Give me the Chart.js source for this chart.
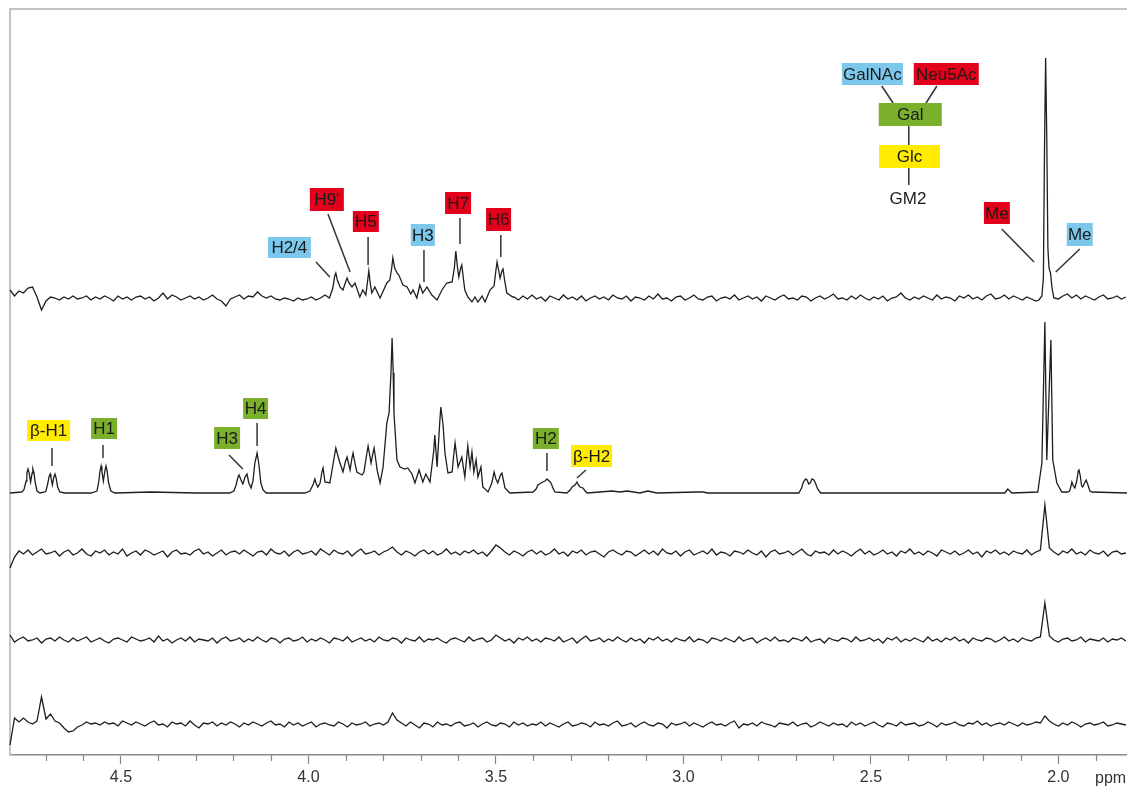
<!DOCTYPE html>
<html>
<head>
<meta charset="utf-8">
<script src="https://cdn.jsdelivr.net/npm/chart.js@4.4.1/dist/chart.umd.min.js"></script>
<style>
  html, body { margin: 0; padding: 0; background: #ffffff; }
  #wrap { width: 1127px; height: 788px; }
</style>
</head>
<body>
<div id="wrap"><canvas id="c" width="1127" height="788"></canvas></div>
<script>
// ---------------- DATA ----------------
// x axis (ppm, reversed)
const ppmMin = 1.817;
const ppmMax = 4.796;
const tickLabels = [4.5, 4.0, 3.5, 3.0, 2.5, 2.0];

// vertical stacking of the five spectra (baseline level of each trace)
const traceBaselines = [457, 262, 202, 115, 30];

// common sampling grid of the noisy traces
const gridStart = 4.796;
const gridStep = 0.012;

// top trace (GM2): noise on grid, null = covered by the peak lists
const noiseTop = [
  8, 2, 7, 5, 10, 11, 1, -12, -3, 1,
  0, -2, 1, -1, 2, -1, 0, 2, -2, 1,
  -1, 2, 0, -3, 2, -1, 1, -2, 1, 2,
  -1, 1, -3, 0, 5, -1, 3, 1, -2, 0,
  2, -1, 1, -2, 0, 3, -1, -3, -8, -1,
  1, 3, -1, 2, 1, 6, 2, 0, 2, -1,
  -2, 0, -1, -3, 0, -2, -1, 1, -2, 0,
  3, 0,
  null, null, null, null, null, null, null, null, null, null,
  null, null, null, null, null, null, null, null, null, null,
  null, null, null, null, null, null, null, null, null, null,
  null, null, null, null, null, null, null, null, null, null,
  1, -2, 2, -1, 3, -1, 1, -3, 2, 0,
  -2, 3, -1, 1, -2, 2, -3, 0, 2, -1,
  1, -2, 3, 0, -1, 2, -3, 1, 0, -2,
  2, -1, 4, -1, 0, -3, 1, 2, -2, 0,
  3, -1, -2, 1, 2, -3, 0, 1, -1, 3,
  -2, 0, 2, -1, 1, -3, 2, 0, -2, 1,
  3, -1, 0, -2, 2, 1, -3, 0, 2, -1,
  1, 4, -1, 0, -2, 2, -1, 3, 0, -2,
  1, -1, 2, -3, 0, 1, 5, 0, -2, 1,
  -1, 2, 0, -2, 3, -1, 1, 0, -3, 2,
  0, 3, -1, 1, -2, 2, 4, -1, 0, 3,
  -1, 2, 0, -2, 1, -1, -3,
  null, null, null, null,
  -1, 2, 4, 0, 3, -1, 2, 0, -2, 1, 3, -1, 0, 2, -1, 1
];
// top trace: sugar region peaks [ppm, intensity]
const peaksTopSugar = [
  [3.943,0],[3.935,10],[3.930,22],[3.927,25],[3.923,18],[3.916,11],[3.908,8],[3.901,16],[3.897,20],[3.892,15],[3.884,11],[3.876,15],
  [3.863,1],[3.855,8],[3.847,3],[3.842,18],[3.839,27],[3.835,14],[3.831,5],[3.823,11],[3.809,0],[3.791,15],
  [3.783,18],[3.778,30],[3.775,40],[3.770,30],[3.764,25],[3.759,23],[3.748,13],[3.737,11],[3.727,4],[3.721,8],
  [3.711,0],[3.703,13],[3.695,5],[3.684,11],[3.671,3],[3.657,-2],[3.644,8],[3.631,15],
  [3.617,16],[3.611,30],[3.607,47],[3.603,32],[3.599,21],[3.594,30],[3.591,33],[3.587,20],[3.583,8],[3.575,1],[3.564,-4],[3.556,1],
  [3.548,-4],[3.537,2],[3.529,-4],[3.516,8],[3.505,12],[3.500,28],[3.497,36],[3.493,28],[3.489,20],[3.484,27],[3.481,29],[3.477,18],
  [3.471,5],[3.455,1]
];
// top trace: N-acetyl methyl peak
const peaksTopMe = [
  [2.052,-2],[2.044,2],[2.040,20],[2.037,150],[2.034,240],[2.031,160],[2.028,50],
  [2.025,30],[2.021,25],[2.017,10],[2.012,0]
];

// second trace (reference spectrum) [ppm, intensity]
const traceRef = [
  [4.796,0],[4.765,1],[4.759,3],[4.753,12],[4.751,20],[4.748,24],[4.745,20],[4.741,11],
  [4.737,20],[4.735,24],[4.732,20],[4.729,11],[4.724,2],[4.716,0],
  [4.703,1],[4.700,2],[4.695,10],[4.692,16],[4.689,19],[4.687,16],[4.683,8],[4.679,16],
  [4.676,19],[4.673,15],[4.669,6],[4.663,1],[4.650,0],
  [4.580,0],[4.564,2],[4.559,12],[4.556,22],[4.553,27],[4.551,22],[4.547,12],[4.543,22],
  [4.540,27],[4.537,22],[4.533,10],[4.527,2],[4.516,0],
  [4.420,1],[4.300,0],[4.210,0],[4.199,2],[4.193,8],[4.188,16],[4.185,18],[4.180,13],
  [4.175,9],[4.169,16],[4.164,19],[4.159,10],[4.153,5],[4.148,12],[4.143,30],[4.137,40],
  [4.132,28],[4.127,10],[4.121,3],[4.113,0],
  [4.010,0],[3.996,2],[3.987,9],[3.983,14],[3.979,9],[3.975,6],[3.969,10],[3.964,21],[3.961,25],[3.956,11],[3.943,10],
  [3.933,32],[3.927,45],[3.922,38],[3.916,30],[3.908,21],[3.901,32],[3.897,36],[3.889,23],[3.884,35],[3.881,40],[3.876,30],[3.871,21],[3.857,18],
  [3.852,21],[3.845,38],[3.841,47],[3.833,30],[3.828,40],[3.825,45],[3.820,32],[3.817,23],[3.809,10],[3.801,26],[3.791,70],
  [3.785,80],[3.780,120],[3.777,155],[3.774,120],[3.772,80],[3.764,33],[3.756,26],[3.743,24],[3.735,25],[3.724,19],
  [3.716,10],[3.705,23],[3.695,11],[3.687,19],[3.676,11],[3.666,42],[3.663,58],[3.657,26],[3.650,70],[3.647,86],
  [3.641,68],[3.636,40],[3.628,20],[3.617,21],[3.612,40],[3.609,50],[3.601,26],[3.591,36],[3.583,16],
  [3.575,47],[3.569,26],[3.564,41],[3.559,21],[3.553,33],[3.548,16],[3.540,26],[3.535,6],
  [3.521,1],[3.511,10],[3.505,21],[3.500,14],[3.495,10],[3.488,18],[3.484,20],[3.476,5],[3.463,0],
  [3.401,1],[3.393,4],[3.388,8],[3.380,10],[3.375,11],[3.369,12],[3.364,14],[3.358,12],[3.353,10],[3.348,5],[3.343,1],[3.311,0],[3.302,3],[3.297,6],
  [3.289,8],[3.284,11],[3.280,8],[3.276,6],[3.268,5],[3.262,2],[3.257,0],
  [3.190,2],[3.170,1],[3.150,2],[3.116,0],[3.095,2],[3.071,0],[2.964,1],[2.948,1],[2.935,0],
  [2.692,0],[2.685,5],[2.680,11],[2.674,14],[2.670,13],[2.666,9],[2.662,10],[2.657,14],
  [2.652,13],[2.647,9],[2.642,4],[2.634,0],
  [2.143,0],[2.135,4],[2.124,0],[2.055,1],[2.044,30],[2.036,171],[2.031,33],[2.020,153],
  [2.015,33],[2.004,10],[1.991,1],[1.975,1],[1.970,2],[1.967,6],[1.964,11],[1.960,7],[1.956,5],
  [1.951,12],[1.947,22],[1.945,23],[1.942,18],[1.938,7],[1.935,6],[1.930,10],[1.926,13],
  [1.922,9],[1.916,2],[1.911,1],[1.817,0]
];

// third trace (noise on grid)
const noise3 = [
  -15, -4, 2, -1, 3, -2, 1, 4, -1, 0,
  2, -3, 1, 3, -2, 0, 4, -1, -3, 2,
  0, 3, -2, 1, -1, 4, -3, 0, 2, -2,
  3, 1, -2, 0, 2, -4, 1, 3, -1, 0,
  -2, 2, 4, -1, 1, -3, 0, 3, -2, 1,
  2, -1, 3, 0, -3, 1, 2, -2, 4, 0,
  -1, 2, -3, 1, 3, -1, 0, 2, -2, 4,
  1, -2, 3, 0, -1, 2, -3, 1, 4, -1,
  0, 2, -2, 1, 3, 6, 1, -2, 2, 0,
  -3, 1, 3, -1, 2, -2, 0, 4, -1, 1,
  -2, 2, 0, 3, -1, 1, -3, 2, 8, 5,
  1, -2, 2, 0, -3, 1, 3, -1, 2, -2,
  0, 4, -1, 1, -3, 2, 0, 3, -2, 1,
  2, -1, -4, 1, 3, 0, -2, 2, 1, -3,
  0, 3, -1, 2, -2, 4, 0, -1, 2, -3,
  1, 3, -2, 0, 2, -1, 4, -2, 1, 0,
  -3, 2, 1, -1, 3, 0, -2, 2, -4, 1,
  3, -1, 0, 2, -2, 1, 4, -1, -3, 2,
  0, 1, -2, 3, -1, 2, 0, -3, 1, 4,
  -1, 2, -2, 0, 3, -1, 1, -3, 2, 0,
  4, -1, 1, -2, 2, 0, -3, 3, 1, -1,
  2, -2, 0, 3, -1, 1, -4, 2, 0, 3,
  -1, 1, -2, 2, 0, -1, 3, -2, 1, 3,
  48, 5, 1, -2, 2, 0, 4, -1, 1, -2,
  3, 0, -1, 2, -3, 1, 2, -1, 0
];

// fourth trace (noise on grid)
const noise4 = [
  5, -2, 1, 3, -1, 0, 2, -3, 1, 2,
  -1, 3, 0, -2, 2, -1, 1, 3, -2, 0,
  2, -1, -3, 1, 2, 0, -2, 3, 1, -1,
  0, 2, -2, 4, -1, 1, -3, 0, 2, -1,
  3, -2, 1, 0, -1, 2, -3, 1, 3, -1,
  0, 2, -2, 1, -1, 3, 0, -2, 2, 1,
  -3, 1, 2, -1, 0, 3, -2, 1, -1, 2,
  0, -3, 2, 1, -1, 3, -2, 0, 2, -1,
  1, -2, 3, 0, -1, 2, 1, -3, 2, 0,
  -1, 3, -2, 1, 0, 2, -1, -3, 1, 2,
  0, -2, 3, -1, 1, 2, -2, 0, 5, 2,
  -1, 1, -3, 2, 0, 3, -1, 1, -2, 2,
  1, -1, 3, -2, 0, 2, -3, 1, 4, -1,
  0, 2, -2, 1, -1, 3, 0, -2, 2, -1,
  1, -3, 2, 0, 3, -1, 1, -2, 2, 0,
  -1, 3, -2, 1, 0, -3, 2, 1, -1, 2,
  0, -2, 3, -1, 1, 2, -3, 0, 2, -1,
  3, -1, 0, -2, 2, 1, -1, 3, -2, 0,
  1, -3, 2, 0, -1, 2, 1, -2, 3, -1,
  0, 2, -1, 1, -3, 2, 0, 3, -2, 1,
  -1, 2, 0, -2, 3, -1, 1, -2, 2, 0,
  3, -1, 1, -3, 2, 0, -1, 2, 1, -2,
  0, 3, -1, 1, -2, 2, 0, -1, 2, 3,
  37, 4, 0, -2, 1, 2, -1, 0, 3, -2,
  1, 0, -1, 2, -2, 1, 0, 2, -1
];

// fifth (bottom) trace (noise on grid)
const noise5 = [
  -20, 7, 3, 7, 3, 1, 4, 28, 6, 11,
  4, 2, -3, -7, -6, -2, 0, 3, 1, 2,
  0, 3, 1, 2, -1, 4, 2, 0, 3, 1,
  -1, 2, 4, 0, 1, -2, 3, 1, 2, -1,
  4, 0, -3, 2, 1, 3, -1, 2, 0, 3,
  1, -2, 2, 0, 3, 1, -1, 2, 4, 0,
  1, -2, 3, 0, 2, -1, 1, 3, -2, 1,
  2, 0, -1, 3, 1, -2, 2, 0, 1, 3,
  -1, 1, 2, 0, 3, 12, 5, 2, -1, 3,
  0, -3, 2, 1, -2, 3, 0, 1, -1, 2,
  3, -1, 0, 2, -2, 1, 3, 0, -1, 2,
  1, -2, 3, 0, 2, -1, 1, 0, 3, -1,
  2, 0, -2, 1, 3, -1, 0, 2, 1, -2,
  3, 0, 1, -1, 2, 4, -1, 0, 2, -2,
  1, 3, 0, -1, 2, 1, -3, 2, 0, 1,
  3, -1, 2, 0, -2, 1, 3, 0, 1, -1,
  2, 4, -3, 1, 0, 2, -1, 3, 1, 0,
  -2, 2, 1, 0, 3, -1, 1, 2, -2, 0,
  3, 1, -1, 2, 0, 1, -2, 3, 0, 2,
  -1, 1, 3, 0, -2, 2, 1, -1, 3, 0,
  1, 2, -1, 0, 3, 1, -2, 2, 0, 1,
  3, 0, -1, 2, 1, 4, 0, 2, -1, 1,
  2, 0, 3, 1, -1, 2, 0, 1, 3, 2,
  9, 4, 1, -1, 2, 0, 3, 1, -2, 1,
  2, 0, 1, 3, -1, 0, 2, 1, 0
];

// annotation labels (text, colour key, ppm, level, box w/h)
const BLUE = '#7cc8ec', RED = '#e2001a', GREEN = '#7ab02c', YELLOW = '#ffec00';
const annLabels = [
  {t:'H2/4', c:BLUE, p:4.051, v:507.5, w:43, h:21},
  {t:"H9'", c:RED, p:3.951, v:555.5, w:34, h:23},
  {t:'H5', c:RED, p:3.847, v:533.5, w:26, h:21},
  {t:'H3', c:BLUE, p:3.695, v:520, w:24, h:22},
  {t:'H7', c:RED, p:3.601, v:552, w:26, h:22},
  {t:'H6', c:RED, p:3.493, v:535.5, w:25, h:23},
  {t:'GalNAc', c:BLUE, p:2.496, v:681, w:61, h:22},
  {t:'Neu5Ac', c:RED, p:2.299, v:681, w:65, h:22},
  {t:'Gal', c:GREEN, p:2.395, v:640.5, w:63, h:23},
  {t:'Glc', c:YELLOW, p:2.397, v:598.5, w:61, h:23},
  {t:'GM2', c:null, p:2.401, v:557},
  {t:'Me', c:RED, p:2.164, v:542, w:26, h:22},
  {t:'Me', c:BLUE, p:1.943, v:520.5, w:26, h:23},
  {t:'β-H1', c:YELLOW, p:4.693, v:324.5, w:43, h:21},
  {t:'H1', c:GREEN, p:4.545, v:326.5, w:26, h:21},
  {t:'H3', c:GREEN, p:4.217, v:317, w:26, h:22},
  {t:'H4', c:GREEN, p:4.141, v:346.5, w:25, h:21},
  {t:'H2', c:GREEN, p:3.367, v:316.5, w:26, h:21},
  {t:'β-H2', c:YELLOW, p:3.245, v:299, w:41, h:22}
];
// leader lines [ppm1, level1, ppm2, level2]
const annLeaders = [
  [3.980,493, 3.943,478],
  [3.948,541, 3.889,483],
  [3.841,518, 3.841,490],
  [3.692,505, 3.692,473],
  [3.596,537, 3.596,511],
  [3.487,520, 3.487,498],
  [2.471,669, 2.441,652],
  [2.324,669, 2.353,652],
  [2.399,629, 2.399,610],
  [2.399,587, 2.399,570],
  [2.151,526, 2.065,493],
  [1.943,506, 2.007,483],
  [4.684,307, 4.684,289],
  [4.548,310, 4.548,297],
  [4.212,300, 4.175,286],
  [4.137,332, 4.137,309],
  [3.364,302, 3.364,284],
  [3.260,285, 3.284,277]
];

// ---------------- BUILD ----------------
function buildGridTrace(noise, peakGroups, base) {
  const pts = [];
  noise.forEach((v, i) => {
    if (v === null) return;
    const p = +(gridStart - i * gridStep).toFixed(4);
    if (peakGroups.some(g => p <= g[0][0] && p >= g[g.length - 1][0])) return;
    pts.push({x: p, y: base + v});
  });
  peakGroups.forEach(g => g.forEach(([p, v]) => pts.push({x: p, y: base + v})));
  pts.sort((a, b) => b.x - a.x);
  return pts;
}
function buildPairs(pairs, base) {
  return pairs.map(([p, v]) => ({x: p, y: base + v}));
}

const series = [
  buildGridTrace(noiseTop, [peaksTopSugar, peaksTopMe], traceBaselines[0]),
  buildPairs(traceRef, traceBaselines[1]),
  buildGridTrace(noise3, [], traceBaselines[2]),
  buildGridTrace(noise4, [], traceBaselines[3]),
  buildGridTrace(noise5, [], traceBaselines[4])
];

const LINE = '#1e1e1e';
const TICKFONT = '16px "Liberation Sans", Arial, sans-serif';
const ANNFONT = '17px "Liberation Sans", Arial, sans-serif';

const framePlugin = {
  id: 'frame',
  beforeDatasetsDraw(chart) {
    const {ctx, chartArea: a} = chart;
    ctx.save();
    ctx.strokeStyle = '#c4c4c4';
    ctx.lineWidth = 2;
    ctx.beginPath();
    ctx.moveTo(a.left, a.bottom);
    ctx.lineTo(a.left, a.top);
    ctx.lineTo(a.right, a.top);
    ctx.stroke();
    ctx.restore();
  },
  afterDraw(chart) {
    const {ctx, chartArea: a} = chart;
    const xs = chart.scales.x;
    ctx.save();
    // minor ticks
    ctx.strokeStyle = '#888';
    ctx.lineWidth = 1.2;
    for (let k = 19; k <= 47; k++) {
      if (k % 5 === 0) continue;
      const px = Math.round(xs.getPixelForValue(k / 10)) + 0.5;
      ctx.beginPath();
      ctx.moveTo(px, a.bottom);
      ctx.lineTo(px, a.bottom + 6);
      ctx.stroke();
    }
    // unit label
    ctx.fillStyle = '#333';
    ctx.font = TICKFONT;
    ctx.textAlign = 'left';
    ctx.textBaseline = 'alphabetic';
    ctx.fillText('ppm', 1095, 783);
    ctx.restore();
  }
};

const annPlugin = {
  id: 'ann',
  afterDatasetsDraw(chart) {
    const {ctx} = chart;
    const xs = chart.scales.x, ys = chart.scales.y;
    ctx.save();
    ctx.strokeStyle = '#333';
    ctx.lineWidth = 1.5;
    annLeaders.forEach(([p1, v1, p2, v2]) => {
      ctx.beginPath();
      ctx.moveTo(xs.getPixelForValue(p1), ys.getPixelForValue(v1));
      ctx.lineTo(xs.getPixelForValue(p2), ys.getPixelForValue(v2));
      ctx.stroke();
    });
    ctx.font = ANNFONT;
    ctx.textAlign = 'center';
    ctx.textBaseline = 'middle';
    annLabels.forEach(l => {
      const cx = xs.getPixelForValue(l.p), cy = ys.getPixelForValue(l.v);
      if (l.c) {
        ctx.fillStyle = l.c;
        ctx.fillRect(cx - l.w / 2, cy - l.h / 2, l.w, l.h);
      }
      ctx.fillStyle = '#1a1a1a';
      ctx.fillText(l.t, cx, cy + 1);
    });
    ctx.restore();
  }
};

new Chart(document.getElementById('c'), {
  type: 'line',
  data: {
    datasets: series.map(d => ({
      data: d,
      borderColor: LINE,
      borderWidth: 1.3,
      pointRadius: 0,
      tension: 0,
      fill: false,
      clip: false
    }))
  },
  options: {
    responsive: false,
    animation: false,
    devicePixelRatio: 1,
    parsing: true,
    layout: { padding: { left: 10, top: 9, right: 0, bottom: 0 } },
    plugins: { legend: { display: false }, tooltip: { enabled: false } },
    scales: {
      x: {
        type: 'linear',
        reverse: true,
        min: ppmMin,
        max: ppmMax,
        afterBuildTicks: s => { s.ticks = tickLabels.map(v => ({value: v})); },
        afterFit: s => { s.height = 33; },
        ticks: {
          autoSkip: false,
          maxRotation: 0,
          padding: 4,
          color: '#333',
          font: { family: '"Liberation Sans", Arial, sans-serif', size: 16 },
          callback: v => Number(v).toFixed(1)
        },
        grid: { display: true, drawOnChartArea: false, drawTicks: true, tickLength: 9, tickColor: '#888', tickWidth: 1.2 },
        border: { display: true, color: '#8a8a8a', width: 1.5 }
      },
      y: {
        type: 'linear',
        display: false,
        min: 0,
        max: 746
      }
    }
  },
  plugins: [framePlugin, annPlugin]
});
</script>
</body>
</html>
